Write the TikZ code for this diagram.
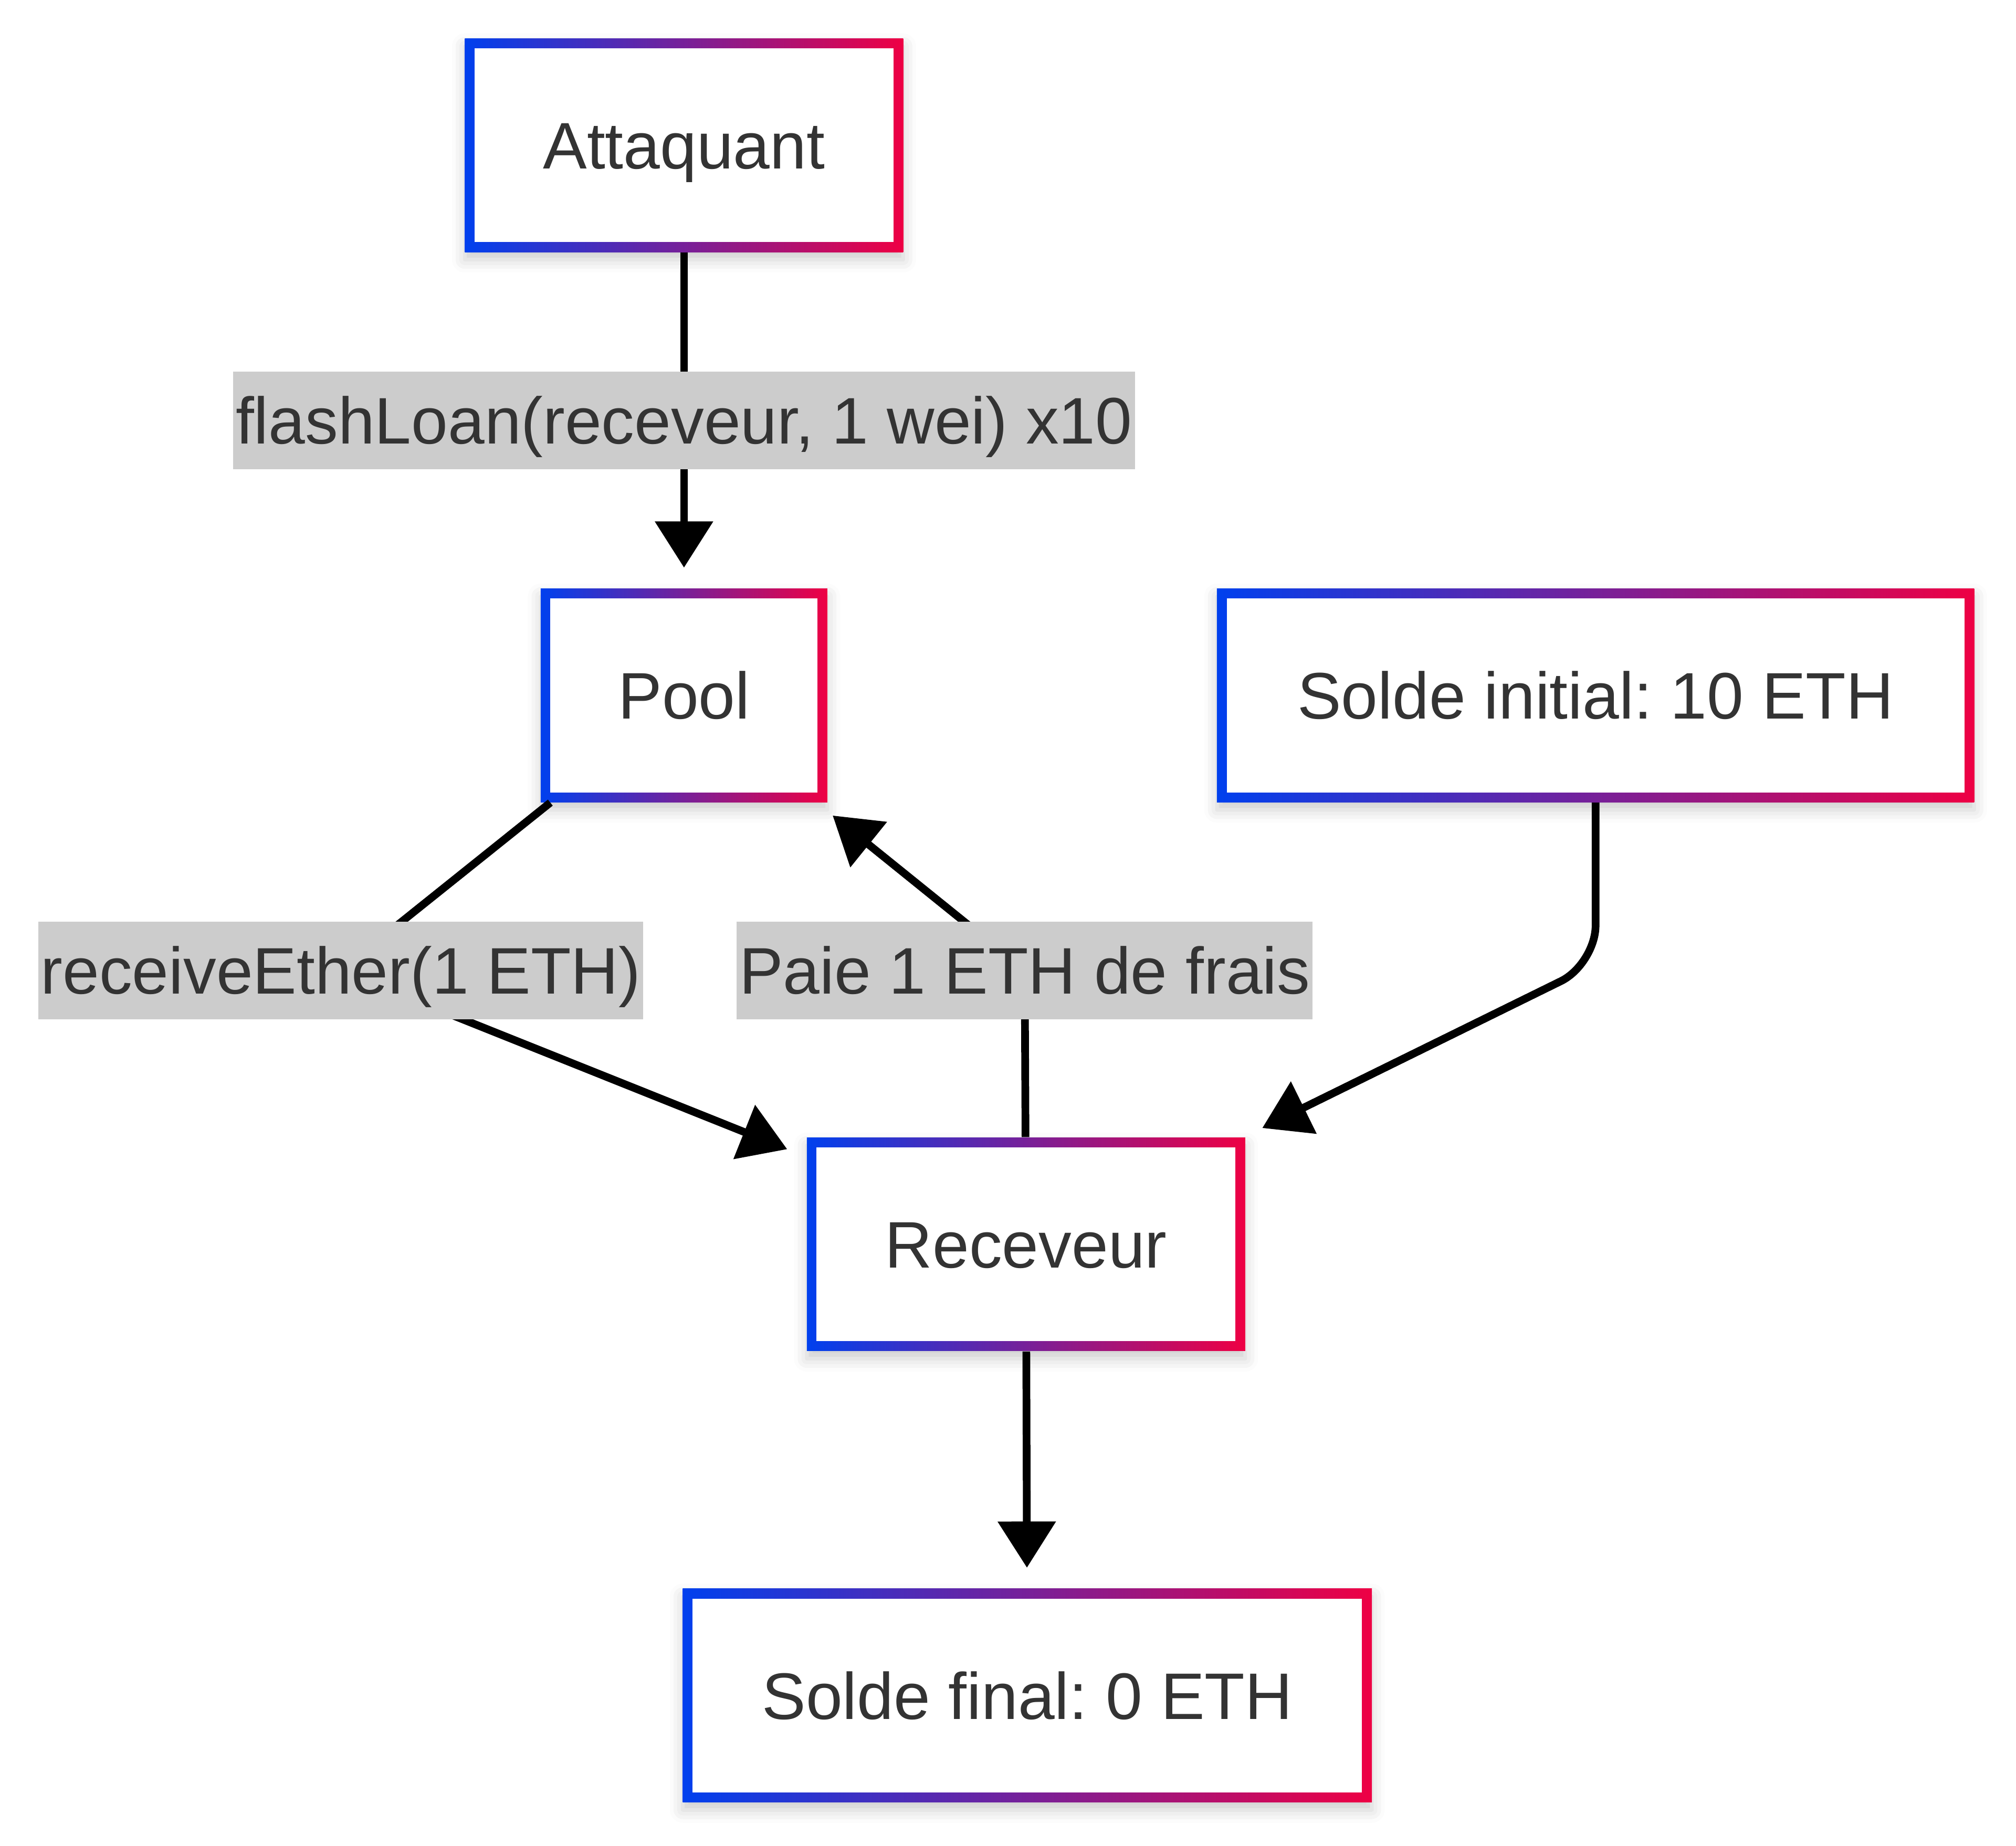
\documentclass[tikz,border=0pt]{standalone}
\usepackage{fontspec}
\setmainfont{Liberation Sans}
\frenchspacing
\usetikzlibrary{arrows.meta, positioning, shadows.blur}

\definecolor{gblue}{HTML}{0040EE}
\definecolor{gred}{HTML}{EE0044}
\definecolor{txtgray}{HTML}{333333}
\definecolor{lblgray}{HTML}{CCCCCC}

\begin{document}
\begin{tikzpicture}[x=0.5pt, y=-0.5pt, font=\fontsize{25.6pt}{30pt}\selectfont,
    box/.style={rectangle, minimum height=83pt, left color=gblue, right color=gred,
      text=txtgray, text height=18.3pt, text depth=0pt,
      blur shadow={shadow xshift=0pt, shadow yshift=-3pt, shadow blur radius=5pt, shadow opacity=20},
      path picture={\fill[white] ([shift={(3.8pt,-3.8pt)}]path picture bounding box.north west)
        rectangle ([shift={(-3.8pt,3.8pt)}]path picture bounding box.south east);}},
    lbl/.style={fill=lblgray, text=txtgray, inner xsep=1pt, minimum height=38pt,
      text height=18.3pt, text depth=0pt},
    arr/.style={-{Triangle[length=18pt, width=22pt]}, shorten >=8pt, line width=3pt}]
    \useasboundingbox (0,0) rectangle (1568,1436);

    \node[box, minimum width=170.5pt] (att) at (532,113) {Attaquant};
    \node[box, minimum width=111.5pt] (pool) at (532,541) {Pool};
    \node[box, minimum width=294.5pt] (init) at (1241,541) {Solde initial: 10 ETH};
    \node[box, minimum width=170.5pt] (recv) at (798,968) {Receveur};
    \node[box, minimum width=268pt] (fin) at (799,1319) {Solde final: 0 ETH};

    \coordinate (kr) at (265,755);
    \coordinate (kp) at (797,755);
    \coordinate (kb) at (1241,750);

    \draw[arr] (att) -- node[lbl] {flashLoan(receveur, 1 wei) x10} (pool);
    \draw[arr] (pool) -- (kr) -- (recv);
    \draw[arr] (recv) -- (kp) -- (pool);
    \draw[arr, rounded corners=15pt] (init) -- (kb) -- (recv);
    \draw[arr] (recv) -- (fin);

    \node[lbl] at (kr) {receiveEther(1 ETH)};
    \node[lbl] at (kp) {Paie 1 ETH de frais};
\end{tikzpicture}
\end{document}
